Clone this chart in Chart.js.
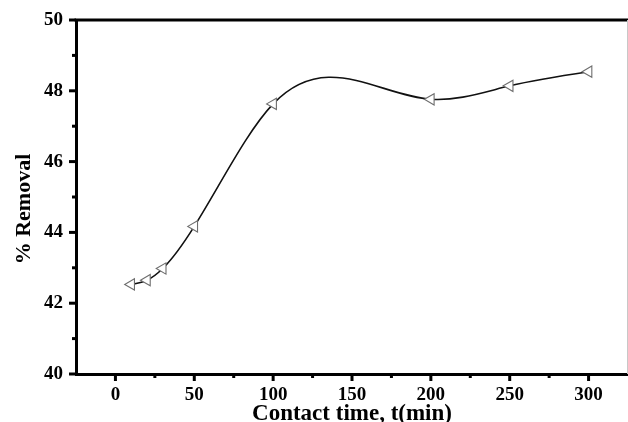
<!DOCTYPE html>
<html>
<head>
<meta charset="utf-8">
<script src="https://cdn.jsdelivr.net/npm/chart.js@4/dist/chart.umd.min.js"></script>
<style>
  html, body { margin: 0; padding: 0; background: #fff; }
  #wrap { width: 628px; height: 422px; }
</style>
</head>
<body>
<div id="wrap"><canvas id="c" width="628" height="422"></canvas></div>
<script>
const contactTime = [10, 20, 30, 50, 100, 200, 250, 300];
const removal = [42.53, 42.65, 42.98, 44.17, 47.63, 47.76, 48.14, 48.54];
const xTickValues = [0, 50, 100, 150, 200, 250, 300];
const yTickValues = [40, 42, 44, 46, 48, 50];
const xTitle = 'Contact time, t(min)';
const yTitle = '% Removal';

const FONT = '"Liberation Serif", "Times New Roman", serif';

// Natural cubic spline connection (like Origin's "Spline" line):
// replace Chart.js control points of the line element with the spline's Bezier handles.
const splinePlugin = {
  id: 'naturalSpline',
  beforeDatasetsDraw(chart) {
    const meta = chart.getDatasetMeta(0);
    const line = meta.dataset;
    const pts = meta.data;
    line.updateControlPoints(chart.chartArea, 'x');
    const n = pts.length;
    const xs = pts.map(p => p.x), ys = pts.map(p => p.y);
    const h = [], d = [];
    for (let i = 0; i < n - 1; i++) { h.push(xs[i + 1] - xs[i]); d.push((ys[i + 1] - ys[i]) / h[i]); }
    const M = new Array(n).fill(0);
    const a = [], b = [], c = [], r = [];
    for (let i = 1; i < n - 1; i++) {
      a.push(h[i - 1]); b.push(2 * (h[i - 1] + h[i])); c.push(h[i]); r.push(6 * (d[i] - d[i - 1]));
    }
    const m = b.length;
    for (let i = 1; i < m; i++) {
      const w = a[i] / b[i - 1];
      b[i] -= w * c[i - 1];
      r[i] -= w * r[i - 1];
    }
    const sol = new Array(m);
    sol[m - 1] = r[m - 1] / b[m - 1];
    for (let i = m - 2; i >= 0; i--) sol[i] = (r[i] - c[i] * sol[i + 1]) / b[i];
    for (let i = 0; i < m; i++) M[i + 1] = sol[i];
    const slope = new Array(n);
    for (let i = 0; i < n - 1; i++) slope[i] = d[i] - h[i] * (2 * M[i] + M[i + 1]) / 6;
    slope[n - 1] = d[n - 2] + h[n - 2] * (M[n - 2] + 2 * M[n - 1]) / 6;
    for (let i = 0; i < n; i++) {
      const p = pts[i];
      const hp = i > 0 ? h[i - 1] : 0;
      const hn = i < n - 1 ? h[i] : 0;
      p.cp1x = xs[i] - hp / 3; p.cp1y = ys[i] - slope[i] * hp / 3;
      p.cp2x = xs[i] + hn / 3; p.cp2y = ys[i] + slope[i] * hn / 3;
    }
    line._path = undefined;
  }
};

const decorPlugin = {
  id: 'decor',
  afterDraw(chart) {
    const ctx = chart.ctx;
    const ar = chart.chartArea;
    const xs = chart.scales.x, ys = chart.scales.y;
    ctx.save();
    ctx.strokeStyle = '#000';
    ctx.lineWidth = 3;
    ctx.lineCap = 'butt';
    xs.ticks.forEach(t => {
      if (t.value <= xs.min || t.value >= xs.max) return;
      const px = xs.getPixelForValue(t.value);
      const major = xTickValues.includes(t.value);
      ctx.beginPath();
      ctx.moveTo(px, ar.bottom);
      ctx.lineTo(px, ar.bottom + (major ? 7 : 4));
      ctx.stroke();
    });
    ys.ticks.forEach(t => {
      const py = ys.getPixelForValue(t.value);
      const major = yTickValues.includes(t.value);
      ctx.beginPath();
      ctx.moveTo(ar.left, py);
      ctx.lineTo(ar.left - (major ? 7 : 4), py);
      ctx.stroke();
    });
    // top border
    ctx.beginPath();
    ctx.moveTo(ar.left - 1.5, ar.top);
    ctx.lineTo(ar.right + 1, ar.top);
    ctx.stroke();
    // thin right border
    ctx.strokeStyle = '#c8c8c8';
    ctx.lineWidth = 1;
    ctx.beginPath();
    ctx.moveTo(ar.right - 0.5, ar.top);
    ctx.lineTo(ar.right - 0.5, ar.bottom);
    ctx.stroke();
    // y axis title
    ctx.fillStyle = '#000';
    ctx.font = 'bold 22px ' + FONT;
    ctx.textAlign = 'center';
    ctx.textBaseline = 'middle';
    ctx.translate(24, 209);
    ctx.rotate(-Math.PI / 2);
    ctx.fillText(yTitle, 0, 0);
    ctx.restore();
  }
};

new Chart(document.getElementById('c'), {
  type: 'line',
  data: {
    datasets: [{
      data: contactTime.map((t, i) => ({ x: t, y: removal[i] })),
      borderColor: '#111',
      borderWidth: 1.6,
      tension: 0.4,
      capBezierPoints: false,
      pointStyle: 'triangle',
      rotation: -90,
      radius: 6.5,
      pointBackgroundColor: '#fff',
      pointBorderColor: '#6e6e6e',
      pointBorderWidth: 1.1,
      fill: false
    }]
  },
  options: {
    responsive: false,
    animation: false,
    events: [],
    layout: { autoPadding: false, padding: { top: 20, right: 0, left: 0, bottom: 0 } },
    plugins: { legend: { display: false }, tooltip: { enabled: false } },
    scales: {
      x: {
        type: 'linear',
        min: -25, max: 325,
        afterFit(s) { s.height = 48; s.paddingRight = 0; s.paddingLeft = 0; },
        border: { display: true, color: '#000', width: 3 },
        grid: { display: false, drawTicks: false },
        ticks: {
          stepSize: 25,
          autoSkip: false,
          maxRotation: 0,
          padding: 12,
          color: '#000',
          font: { family: FONT, size: 19, weight: 'bold', lineHeight: 1 },
          callback: v => xTickValues.includes(v) ? String(v) : ''
        },
        title: {
          display: true,
          text: xTitle,
          color: '#000',
          font: { family: FONT, size: 23, weight: 'bold', lineHeight: 1 },
          padding: { top: 0, bottom: -4 }
        }
      },
      y: {
        min: 40, max: 50,
        afterFit(s) { s.width = 76; s.paddingTop = 0; s.paddingBottom = 0; },
        border: { display: true, color: '#000', width: 3 },
        grid: { display: false, drawTicks: false },
        ticks: {
          stepSize: 1,
          autoSkip: false,
          padding: 13,
          color: '#000',
          font: { family: FONT, size: 19, weight: 'bold', lineHeight: 1 },
          callback: v => yTickValues.includes(v) ? String(v) : ''
        }
      }
    }
  },
  plugins: [splinePlugin, decorPlugin]
});
</script>
</body>
</html>
